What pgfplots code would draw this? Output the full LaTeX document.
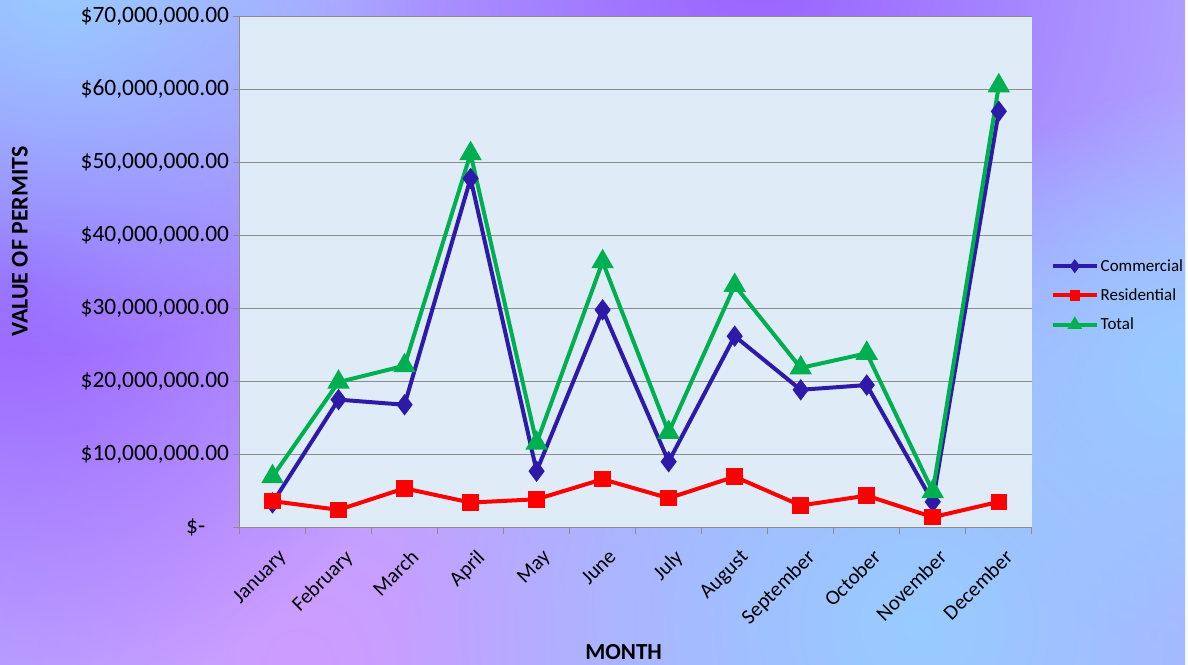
\documentclass[border=0pt]{standalone}
\usepackage{fontspec}
\setmainfont{Carlito}
\usepackage{pgfplots}
\pgfplotsset{compat=1.18}
\usetikzlibrary{fadings}

\definecolor{comm}{HTML}{2E1AA8}
\definecolor{resi}{HTML}{FF0000}
\definecolor{tot}{HTML}{00B050}
\definecolor{plotbg}{HTML}{DFEBF7}
\definecolor{gridc}{HTML}{8C8C8C}
\definecolor{bgbase}{HTML}{B2A8FF}
\definecolor{bgblue}{HTML}{98CCFF}
\definecolor{bgpurple}{HTML}{9A62FF}
\definecolor{bgpink}{HTML}{CE9CFF}

\tikzfading[name=fade out, inner color=transparent!0, outer color=transparent!100]

\begin{document}
\begin{tikzpicture}[x=1pt,y=1pt]
% background
\begin{scope}
\clip (0,0) rectangle (1188,666);
\fill[bgbase] (0,0) rectangle (1188,666);
\fill[bgpink, path fading=fade out] (300,0) circle (450);
\fill[bgpurple, path fading=fade out] (20,380) circle (420);
\fill[bgpurple, path fading=fade out] (760,700) circle (500);
\fill[bgblue, path fading=fade out] (60,690) circle (380);
\fill[bgblue, path fading=fade out] (920,40) circle (520);
\fill[bgblue, path fading=fade out] (1190,300) circle (280);
\end{scope}

\begin{axis}[
    at={(240pt,137.5pt)}, anchor=south west,
    width=794pt, height=512pt, scale only axis,
    xmin=-0.5, xmax=11.5, ymin=0, ymax=70,
    axis background/.style={fill=plotbg},
    axis x line*=bottom, axis y line*=left,
    axis line style={gridc, line width=1.3pt, -},
    xtick={0,...,11},
    xticklabels={January,February,March,April,May,June,July,August,September,October,November,December},
    minor xtick={-0.5,0.5,...,11.5},
    major x tick style={draw=none},
    minor x tick style={gridc, line width=1.3pt},
    minor tick length=7pt,
    ytick={0,10,...,70},
    yticklabels={\$-\phantom{00},\$10{,}000{,}000.00,\$20{,}000{,}000.00,\$30{,}000{,}000.00,\$40{,}000{,}000.00,\$50{,}000{,}000.00,\$60{,}000{,}000.00,\$70{,}000{,}000.00},
    major y tick style={gridc, line width=1.3pt},
    major tick length=7pt,
    tick align=outside,
    ymajorgrids, grid style={gridc, line width=1.3pt},
    yticklabel style={font=\fontsize{23.5}{28}\selectfont},
    xticklabel style={font=\fontsize{21}{25}\selectfont, rotate=45, anchor=north east, xshift=-3pt, yshift=-10pt},
    legend style={at={(1.02,0.454)}, anchor=west, draw=none, fill=none,
        font=\fontsize{17}{20}\selectfont, row sep=12pt},
    legend cell align=left,
    legend image code/.code={\draw[mark repeat=2, mark phase=2, #1, every mark/.append style={scale=0.5}] plot coordinates {(0pt,0pt) (22pt,0pt) (44pt,0pt)};},
]
\addplot[comm, line width=4pt, mark=diamond*, mark size=7.5pt, mark options={solid, fill=comm}] coordinates {
(0,3.35) (1,17.5) (2,16.8) (3,47.8) (4,7.7) (5,29.8) (6,9.0) (7,26.2) (8,18.85) (9,19.5) (10,3.5) (11,57.0)};
\addplot[resi, line width=4pt, mark=square*, mark size=6.3pt, mark options={solid, fill=resi}] coordinates {
(0,3.6) (1,2.4) (2,5.35) (3,3.4) (4,3.85) (5,6.6) (6,4.0) (7,6.95) (8,3.0) (9,4.35) (10,1.4) (11,3.5)};
\addplot[tot, line width=4pt, mark=triangle*, mark size=9pt, mark options={solid, fill=tot}] coordinates {
(0,6.95) (1,19.9) (2,22.15) (3,51.2) (4,11.55) (5,36.4) (6,13.0) (7,33.15) (8,21.85) (9,23.85) (10,4.9) (11,60.5)};
\legend{Commercial, Residential, Total}
\end{axis}

\node[rotate=90, font=\bfseries\fontsize{24}{28}\selectfont] at (20,424) {VALUE OF PERMITS};
\node[font=\bfseries\fontsize{23}{27}\selectfont] at (625,13) {MONTH};
\end{tikzpicture}
\end{document}
